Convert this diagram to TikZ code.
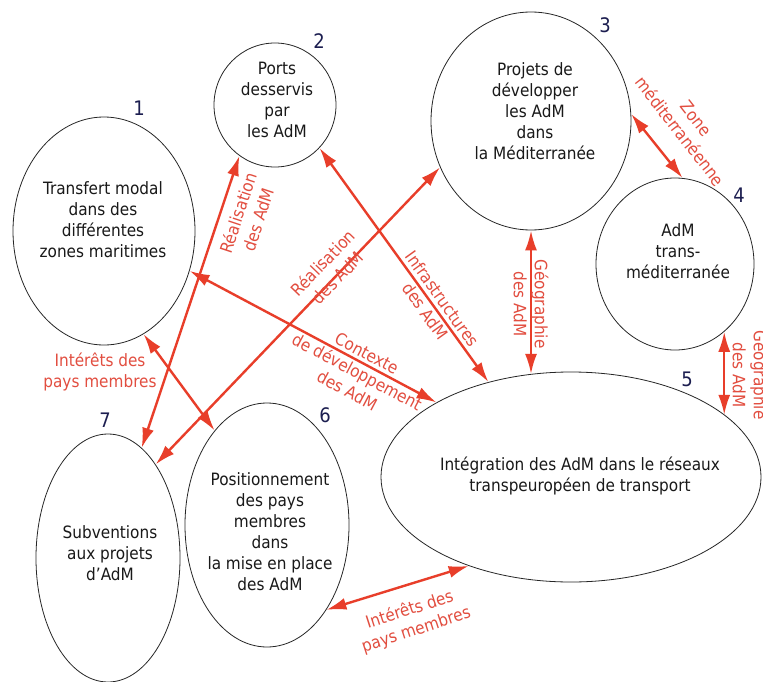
\documentclass[tikz,border=0pt]{standalone}
\usepackage{fontspec}
\setmainfont{DejaVu Sans Condensed}
\usetikzlibrary{shapes.geometric,arrows.meta}
\definecolor{arrowred}{RGB}{232,62,42}
\definecolor{labelred}{RGB}{226,78,64}
\definecolor{numblue}{RGB}{28,30,80}
\begin{document}
\begin{tikzpicture}[x=1bp,y=-1bp,
  bubble/.style={ellipse,draw=black!85,line width=0.8bp,inner sep=0pt},
  bubbletext/.style={align=center,inner sep=0pt,font=\fontsize{17bp}{21bp}\selectfont,text=black!90},
  num/.style={inner sep=0pt,font=\fontsize{20bp}{24bp}\selectfont,text=numblue},
  link/.style={draw=arrowred,line width=2.4bp,{Latex[length=20bp,width=12bp]}-{Latex[length=20bp,width=12bp]}},
  linklabel/.style={align=center,inner sep=0pt,font=\fontsize{17bp}{21bp}\selectfont,text=labelred}
]
\fill[white] (0,0) rectangle (763,682);
\useasboundingbox (0,0) rectangle (763,682);

% bubbles
\node[bubble,minimum width=182bp,minimum height=228bp] (e1) at (104,231) {};
\node[bubble,minimum width=122bp,minimum height=124bp] (e2) at (275,105) {};
\node[bubble,minimum width=200bp,minimum height=218bp] (e3) at (531,121) {};
\node[bubble,minimum width=158bp,minimum height=172bp] (e4) at (675,264) {};
\node[bubble,minimum width=380bp,minimum height=210bp] (e5) at (571,477) {};
\node[bubble,minimum width=164bp,minimum height=244bp] (e6) at (267,525) {};
\node[bubble,minimum width=144bp,minimum height=248bp] (e7) at (108,558) {};

% texts
\node[bubbletext] (t1) at (103,220) {Transfert modal\\dans des\\différentes\\zones maritimes};
\node[bubbletext] (t2) at (277,100) {Ports\\desservis\\par\\les AdM};
\node[bubbletext] (t3) at (535,111) {Projets de\\développer\\les AdM\\dans\\la Méditerranée};
\node[bubbletext] (t4) at (678,251) {AdM\\trans-\\méditerranée};
\node[bubbletext] (t5) at (580,476) {Intégration des AdM dans le réseaux\\transpeuropéen de transport};
\node[bubbletext] (t6) at (270,532) {Positionnement\\des pays\\membres\\dans\\la mise en place\\des AdM};
\node[bubbletext] (t7) at (110,553) {Subventions\\aux projets\\d’AdM};

% numbers
\node[num] (n1) at (139,108) {1};
\node[num] (n2) at (319,41) {2};
\node[num] (n3) at (605,25) {3};
\node[num] (n4) at (739,195) {4};
\node[num] (n5) at (687,379) {5};
\node[num] (n6) at (325,415) {6};
\node[num] (n7) at (105,420) {7};

% connectors
\draw[link] (e7.73) -- (e2.235);
\draw[link] (e7.63) -- (e3.207);
\draw[link] (e1.291) -- (e6.119);
\draw[link] (e2.316) -- (e5.131);
\draw[link] (e1.335) -- (e5.151);
\draw[link] (e3.south) -- (e3.south |- e5.111);
\draw[link] (e4.306) -- (e4.306 |- e5.22);
\draw[link] (e3.4) -- (e4.85);
\draw[link] (e6.305) -- (e5.221);

% connector labels
\node[linklabel,rotate=71.7] (la) at (248,216) {Réalisation\\des AdM};
\node[linklabel,rotate=46] (lb) at (330,270) {Réalisation\\des AdM};
\node[linklabel] (lc) at (100,372) {Intérêts des\\pays membres};
\node[linklabel,rotate=-54.4] (ld) at (434,305) {Infrastructures\\des AdM};
\node[linklabel,rotate=-28] (le) at (357,372) {Contexte\\de développement\\des AdM};
\node[linklabel,rotate=-90] (lf) at (531,304) {Géographie\\des AdM};
\node[linklabel,rotate=-90] (lg) at (750,375) {Géographie\\des AdM};
\node[linklabel,rotate=-52] (lh) at (688,125) {Zone\\méditerranéenne};
\node[linklabel,rotate=18] (li) at (413,620) {Intérêts des\\pays membres};
\end{tikzpicture}
\end{document}
